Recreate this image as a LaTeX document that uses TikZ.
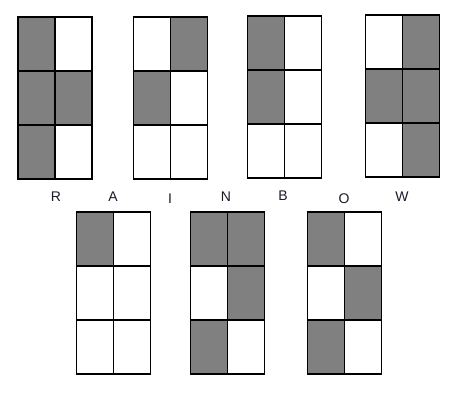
\documentclass[tikz,border=0pt]{standalone}
\usepackage{fontspec}
\setmainfont{Liberation Sans}
\definecolor{cellgray}{HTML}{808080}
\definecolor{lettercol}{HTML}{1A1A2A}
\tikzset{
  gridline/.style={draw=black, line width=1.4pt},
  dotcell/.style={fill=cellgray},
  letter/.style={font=\fontsize{14}{15}\selectfont, text=lettercol, inner sep=0pt, anchor=base}
}
% #1,#2: top-left corner (px); #3: list of filled cells col/row (0-based)
\newcommand\brcell[3]{%
  \foreach \cc/\rr in {#3} {\fill[dotcell] ({#1+\cc*37},{#2+\rr*54}) rectangle ++(37,54);}
  \draw[gridline] (#1,#2) rectangle ++(74,162);
  \draw[gridline] ({#1+37},#2) -- ++(0,162);
  \draw[gridline] (#1,{#2+54}) -- ++(74,0);
  \draw[gridline] (#1,{#2+108}) -- ++(74,0);
}
\begin{document}
\begin{tikzpicture}[x=1pt,y=-1pt]
\useasboundingbox (0,0) rectangle (468,417);
\fill[white] (0,0) rectangle (468,417);
% top row
\brcell{18}{17}{0/0,0/1,1/1,0/2}
\brcell{133.5}{17}{1/0,0/1}
\brcell{247.5}{16}{0/0,0/1}
\brcell{365.5}{15}{1/0,0/1,1/1,1/2}
% bottom row
\brcell{76.5}{212}{0/0}
\brcell{190.5}{212}{0/0,1/0,1/1,0/2}
\brcell{307.5}{212}{0/0,1/1,0/2}
% letters
\node[letter] (lR) at (56,201) {R};
\node[letter] (lA) at (113,201) {A};
\node[letter] (lI) at (170,203) {I};
\node[letter] (lN) at (226,201) {N};
\node[letter] (lB) at (283,200) {B};
\node[letter] (lO) at (344,203) {O};
\node[letter] (lW) at (402,201) {W};
\end{tikzpicture}
\end{document}
